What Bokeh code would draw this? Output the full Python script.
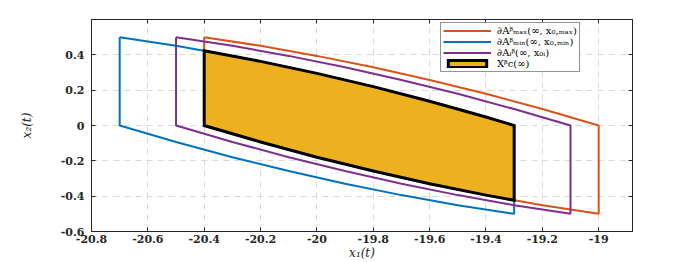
from bokeh.plotting import figure
from bokeh.models import (Range1d, FixedTicker, LinearAxis, Legend, LegendItem)
from bokeh.embed import file_html
from bokeh.resources import INLINE

# ---- data ----
X_TICKS = [-20.8, -20.6, -20.4, -20.2, -20.0, -19.8, -19.6, -19.4, -19.2, -19.0]
X_TICK_LABELS = ["-20.8", "-20.6", "-20.4", "-20.2", "-20", "-19.8", "-19.6", "-19.4", "-19.2", "-19"]
Y_TICKS = [-0.6, -0.4, -0.2, 0.0, 0.2, 0.4]
Y_TICK_LABELS = ["-0.6", "-0.4", "-0.2", "0", "0.2", "0.4"]

# edge profile shared by the three reachable-set boundaries (offset from each set's left edge)
EDGE_DX = [0.0, 0.2, 0.4, 0.6, 0.8, 1.0, 1.2, 1.4]
TOP_Y = [0.5, 0.451, 0.394, 0.330, 0.258, 0.180, 0.093, 0.0]
BOTTOM_Y = [0.0, -0.093, -0.180, -0.258, -0.330, -0.394, -0.451, -0.5]

SET_LEFT_X = {"max": -20.4, "min": -20.7, "i": -20.5}

# intersection set X_c
XC_X = [-20.4, -20.2, -20.0, -19.8, -19.6, -19.4, -19.3]
XC_TOP = [0.423, 0.363, 0.295, 0.220, 0.137, 0.048, 0.0]
XC_BOTTOM = [0.0, -0.093, -0.180, -0.258, -0.330, -0.394, -0.423]

LABELS = {
    "max": "∂Aᵝₘₐₓ(∞, x₀,ₘₐₓ)",
    "min": "∂Aᵝₘᵢₙ(∞, x₀,ₘᵢₙ)",
    "i": "∂Aᵢᵝ(∞, x₀ᵢ)",
    "c": "Xᵝc(∞)",
}
COLORS = {"max": "#D95319", "min": "#0072BD", "i": "#7E2F8E", "c": "#EDB120"}

AX = "#262626"
FONT = "DejaVu Serif"

p = figure(width=698, height=262, output_backend="svg", toolbar_location=None,
           x_range=Range1d(-20.8, -18.88), y_range=Range1d(-0.6, 0.6),
           min_border_left=91, min_border_right=66, min_border_top=19, min_border_bottom=31,
           background_fill_color="white", border_fill_color="white")
p.outline_line_color = AX
p.outline_line_width = 1

for ax, ticks, labels in ((p.xaxis[0], X_TICKS, X_TICK_LABELS), (p.yaxis[0], Y_TICKS, Y_TICK_LABELS)):
    ax.ticker = FixedTicker(ticks=ticks)
    ax.major_label_overrides = {t: l for t, l in zip(ticks, labels)}
    ax.major_tick_in = 4
    ax.major_tick_out = 0
    ax.minor_tick_in = 0
    ax.minor_tick_out = 0
    ax.axis_line_color = AX
    ax.major_tick_line_color = AX
    ax.major_label_text_font = FONT
    ax.major_label_text_font_style = "bold"
    ax.major_label_text_font_size = "11px"
    ax.major_label_text_color = AX
    ax.axis_label_text_font = FONT
    ax.axis_label_text_font_style = "italic"
    ax.axis_label_text_font_size = "12px"
    ax.axis_label_text_color = AX

p.xaxis[0].axis_label = "x₁(t)"
p.yaxis[0].axis_label = "x₂(t)"
p.xaxis[0].major_label_standoff = 3
p.xaxis[0].axis_label_standoff = 0
p.yaxis[0].major_label_standoff = 7
p.yaxis[0].axis_label_standoff = 24

# box ticks on top and right
top_ax = LinearAxis(ticker=FixedTicker(ticks=X_TICKS), major_tick_in=4, major_tick_out=0,
                    minor_tick_in=0, minor_tick_out=0, axis_line_color=AX, major_tick_line_color=AX,
                    major_label_text_font_size="0px", major_label_standoff=0,
                    major_label_overrides={t: "" for t in X_TICKS})
right_ax = LinearAxis(ticker=FixedTicker(ticks=Y_TICKS), major_tick_in=4, major_tick_out=0,
                      minor_tick_in=0, minor_tick_out=0, axis_line_color=AX, major_tick_line_color=AX,
                      major_label_text_font_size="0px", major_label_standoff=0,
                      major_label_overrides={t: "" for t in Y_TICKS})
p.add_layout(top_ax, "above")
p.add_layout(right_ax, "right")

for g in (p.xgrid[0], p.ygrid[0]):
    g.grid_line_color = "#d9d9d9"
    g.grid_line_dash = "6 5"
    g.grid_line_width = 1
p.xgrid[0].ticker = FixedTicker(ticks=X_TICKS)
p.ygrid[0].ticker = FixedTicker(ticks=Y_TICKS)

items = []
for key in ("max", "min", "i"):
    x0 = SET_LEFT_X[key]
    xs = [x0 + d for d in EDGE_DX] + [x0 + d for d in reversed(EDGE_DX)] + [x0]
    ys = TOP_Y + list(reversed(BOTTOM_Y)) + [TOP_Y[0]]
    r = p.line(xs, ys, line_color=COLORS[key], line_width=2)
    items.append(LegendItem(label=LABELS[key], renderers=[r]))

rc = p.patch(XC_X + list(reversed(XC_X)), XC_TOP + list(reversed(XC_BOTTOM)),
             fill_color=COLORS["c"], line_color="black", line_width=3, line_join="miter")
items.append(LegendItem(label=LABELS["c"], renderers=[rc]))

leg = Legend(items=items, location=(349, 159), glyph_width=48, glyph_height=9,
             label_height=9, spacing=0, padding=2, margin=0, label_standoff=6,
             label_text_font=FONT, label_text_font_size="10px", label_text_color="black",
             border_line_color=AX, border_line_width=1, background_fill_alpha=1)
p.add_layout(leg, "center")

open("out.html", "w").write(file_html(p, INLINE))
